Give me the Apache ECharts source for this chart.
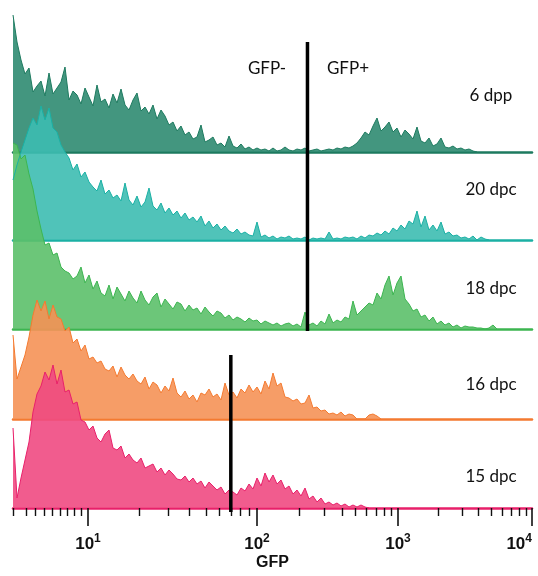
<!DOCTYPE html>
<html>
<head>
<meta charset="utf-8">
<script src="https://cdn.jsdelivr.net/npm/echarts@6/dist/echarts.min.js"></script>
<style>
	html, body { margin: 0; padding: 0; background: #fff; }
	#gfpChart { width: 538px; height: 576px; }
</style>
</head>
<body>
<div id="gfpChart"></div>
<script>
	// histogram counts, one value per bin of 4 display channels
	const binWidth = 4
	const sampleNames = ['6 dpp', '20 dpc', '18 dpc', '16 dpc', '15 dpc']

	const counts6dpp = [137, 110, 92, 78, 84, 60, 66, 71, 56, 79,
		58, 64, 70, 85, 52, 61, 57, 48, 64, 55,
		46, 67, 50, 53, 44, 58, 49, 63, 47, 42,
		52, 59, 41, 45, 38, 47, 33, 42, 36, 27,
		30, 21, 26, 17, 20, 13, 15, 27, 10, 12,
		15, 7, 9, 5, 16, 6, 4, 8, 3, 5,
		2, 4, 2, 3, 1, 4, 1, 2, 5, 2,
		1, 3, 2, 4, 1, 2, 3, 1, 2, 3,
		2, 4, 3, 5, 4, 6, 9, 14, 20, 17,
		26, 34, 21, 25, 30, 20, 24, 15, 22, 18,
		13, 25, 11, 9, 14, 6, 8, 14, 5, 4,
		6, 3, 4, 2, 3, 1, 0]

	const counts20dpc = [60, 75, 88, 100, 112, 122, 115, 134, 120, 132,
		112, 108, 95, 88, 82, 70, 76, 63, 68, 58,
		53, 49, 60, 46, 50, 42, 45, 39, 57, 40,
		35, 44, 33, 38, 52, 34, 30, 37, 27, 32,
		25, 29, 22, 27, 20, 23, 18, 24, 14, 19,
		12, 16, 10, 14, 9, 7, 11, 6, 8, 5,
		4, 18, 3, 5, 2, 4, 1, 3, 2, 4,
		1, 2, 1, 3, 0, 2, 1, 2, 1, 8,
		1, 2, 1, 3, 2, 3, 1, 4, 2, 5,
		4, 7, 5, 9, 6, 12, 9, 15, 11, 19,
		16, 29, 13, 24, 10, 15, 9, 18, 6, 8,
		4, 5, 2, 3, 1, 4, 0, 3, 1, 0]

	const counts18dpc = [186, 184, 170, 174, 155, 140, 118, 100, 84, 86,
		74, 76, 62, 58, 56, 50, 53, 62, 46, 54,
		40, 48, 36, 33, 44, 30, 42, 35, 28, 38,
		31, 26, 38, 29, 24, 32, 36, 22, 30, 25,
		20, 27, 25, 18, 24, 19, 21, 15, 22, 17,
		13, 18, 16, 11, 14, 9, 12, 10, 7, 11,
		8, 9, 5, 8, 6, 4, 6, 3, 5, 6,
		3, 5, 2, 17, 4, 6, 3, 8, 5, 15,
		6, 9, 7, 12, 10, 28, 14, 18, 22, 26,
		24, 36, 30, 44, 53, 34, 46, 53, 30, 25,
		18, 20, 12, 14, 8, 12, 5, 8, 4, 6,
		2, 4, 1, 3, 2, 2, 1, 1, 0, 1, 4, 0]

	const counts16dpc = [84, 40, 52, 64, 82, 104, 119, 108, 118, 100,
		114, 102, 100, 88, 92, 76, 80, 68, 74, 60,
		62, 56, 58, 50, 48, 53, 42, 52, 44, 40,
		45, 38, 35, 42, 30, 37, 34, 26, 33, 28,
		41, 26, 22, 28, 20, 24, 17, 26, 24, 30,
		22, 25, 19, 36, 24, 27, 21, 30, 26, 34,
		27, 32, 25, 38, 30, 46, 33, 36, 22, 21,
		18, 20, 15, 16, 24, 11, 12, 8, 9, 5,
		6, 4, 7, 3, 5, 4, 0, 0, 0, 4, 5, 3, 0]

	const counts15dpc = [80, 10, 30, 48, 66, 96, 114, 122, 136, 128,
		143, 124, 138, 116, 118, 104, 106, 88, 86, 78,
		82, 70, 66, 74, 78, 60, 58, 62, 50, 54,
		48, 45, 50, 40, 42, 44, 36, 40, 33, 38,
		34, 29, 28, 32, 26, 30, 24, 27, 20, 26,
		22, 18, 21, 14, 18, 16, 13, 20, 17, 24,
		19, 30, 22, 35, 26, 33, 24, 28, 19, 22,
		14, 18, 12, 20, 9, 12, 6, 10, 4, 6,
		3, 5, 2, 4, 1, 3, 1, 3, 1, 0]

	const allCounts = [counts6dpp, counts20dpc, counts18dpc, counts16dpc, counts15dpc]

	// display scale: GFP value of each decade and its display channel
	const decadeGfp = [1, 10, 100, 1000, 10000]
	const decadeChannel = [0, 75, 244, 385, 519]
	const decadeExponents = [1, 2, 3, 4]

	// gates (GFP value)
	const gateTop = 228
	const gateBottom = 70

	// layout / styles
	const baselines = [152, 240, 329, 419, 508]
	const lineColors = ['#1d7a5f', '#1ab0a4', '#3cb550', '#f47a30', '#e8206a']
	const fillColors = ['#2f8b71', '#3dbdb1', '#5cc06a', '#f59256', '#ef4a82']
	const labelY = [96, 190, 289, 385, 477]
	const ridgeHeight = 190
	const chanMax = decadeChannel[decadeChannel.length - 1]

	// the lowest decade is compressed (near-linear), the others are logarithmic
	function gfpToChannel(v) {
		for (let d = 0; d < decadeGfp.length - 1; d++) {
			if (v <= decadeGfp[d + 1]) {
				let frac = d === 0 ? Math.pow((v - 1) / 9, 0.8) : Math.log10(v / decadeGfp[d])
				return decadeChannel[d] + (decadeChannel[d + 1] - decadeChannel[d]) * frac
			}
		}
		return chanMax
	}

	let majorTicks = decadeGfp.slice(1).map(gfpToChannel)
	let minorTicks = []
	for (let d = 0; d < decadeGfp.length - 1; d++) {
		for (let k = 1; k <= 9; k++) {
			if (d > 0 && k === 1) continue
			minorTicks.push(gfpToChannel(k * decadeGfp[d]))
		}
	}

	let grids = [], xAxes = [], yAxes = [], series = [], graphics = []
	let textFont = '17px Lato'
	function makeGrid(top, height) {
		return { left: 13, width: chanMax, top: top, height: height, outerBoundsMode: 'none', containLabel: false }
	}

	sampleNames.forEach((name, i) => {
		grids.push(makeGrid(baselines[i] - ridgeHeight, ridgeHeight))
		let isLast = i === sampleNames.length - 1
		xAxes.push({
			type: 'value', gridIndex: i, min: 0, max: chanMax, position: 'bottom',
			axisLine: { show: true, onZero: false, lineStyle: { color: lineColors[i], width: 2.5 } },
			axisTick: { show: false },
			axisLabel: isLast ? {
				show: true, customValues: majorTicks, margin: 25, hideOverlap: false, alignMaxLabel: 'right',
				formatter: function (v) {
					let idx = majorTicks.findIndex(t => Math.abs(t - v) < 0.5)
					return '{b|10}{s|' + decadeExponents[idx] + '}'
				},
				rich: {
					b: { fontFamily: 'Liberation Sans', fontWeight: 'bold', fontSize: 17, color: '#111' },
					s: { fontFamily: 'Liberation Sans', fontWeight: 'bold', fontSize: 12, color: '#111', padding: [0, 0, 10, 0] }
				}
			} : { show: false },
			splitLine: { show: false },
			name: isLast ? 'GFP' : '', nameLocation: 'middle', nameGap: 47,
			nameTextStyle: { fontFamily: 'Liberation Sans', fontWeight: 'bold', fontSize: 16, color: '#111' }
		})
		yAxes.push({ type: 'value', gridIndex: i, min: 0, max: ridgeHeight, show: false })
		series.push({
			type: 'line', name: name, xAxisIndex: i, yAxisIndex: i,
			data: allCounts[i].map((c, j) => [j * binWidth, c]),
			symbol: 'none', clip: false,
			lineStyle: { color: lineColors[i], width: 1 },
			areaStyle: { color: fillColors[i], opacity: 0.9 }
		})
		graphics.push({
			type: 'text', x: 491, y: labelY[i],
			style: { text: name, font: textFont, fill: '#111', textAlign: 'center', textVerticalAlign: 'middle' }
		})
	})

	// major and minor ticks on the bottom axis
	let tickSets = [[majorTicks, 18, 1.6], [minorTicks, 8, 1.4]]
	tickSets.forEach(t => {
		xAxes.push({
			type: 'value', gridIndex: 4, min: 0, max: chanMax, position: 'bottom',
			axisLine: { show: false, onZero: false },
			axisTick: { show: true, customValues: t[0], length: t[1], lineStyle: { color: '#111', width: t[2] } },
			axisLabel: { show: false }, splitLine: { show: false }
		})
	})

	// gate lines
	let gates = [[gateTop, 42, 289], [gateBottom, 355, 157]]
	gates.forEach(g => {
		let gi = grids.length
		grids.push(makeGrid(g[1], g[2]))
		xAxes.push({ type: 'value', gridIndex: gi, min: 0, max: chanMax, show: false })
		yAxes.push({ type: 'value', gridIndex: gi, min: 0, max: 1, show: false })
		let ch = gfpToChannel(g[0])
		series.push({
			type: 'line', xAxisIndex: xAxes.length - 1, yAxisIndex: yAxes.length - 1,
			data: [[ch, 0], [ch, 1]], symbol: 'none', z: 10,
			lineStyle: { color: '#000', width: 3.5 }
		})
	})

	graphics.push({ type: 'text', x: 267, y: 69, style: { text: 'GFP-', font: textFont, fill: '#111', textAlign: 'center', textVerticalAlign: 'middle' } })
	graphics.push({ type: 'text', x: 348, y: 69, style: { text: 'GFP+', font: textFont, fill: '#111', textAlign: 'center', textVerticalAlign: 'middle' } })

	let mychart = echarts.init(document.getElementById('gfpChart'))
	let option = {
		animation: false,
		grid: grids,
		xAxis: xAxes,
		yAxis: yAxes,
		series: series,
		graphic: graphics
	}
	mychart.setOption(option)
</script>
</body>
</html>
